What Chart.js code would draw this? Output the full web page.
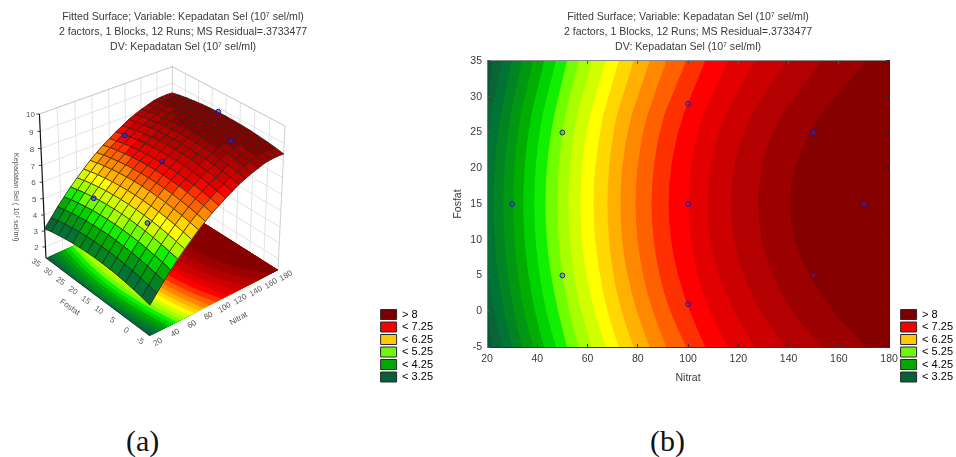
<!DOCTYPE html>
<html lang="en">
<head>
<meta charset="UTF-8">
<title>Fitted Surface</title>
<script src="https://cdn.jsdelivr.net/npm/chart.js"></script>
<style>
    html, body { margin: 0; background: #fff; width: 956px; height: 457px; overflow: hidden; }
    canvas { position: absolute; top: 0; filter: blur(0.3px); }
    #surfaceWrap, #contourWrap { position: absolute; top: 0; height: 384px; }
    #surfaceWrap { left: 0; width: 443px; }
    #contourWrap { left: 452px; width: 511px; }
    .caption { position: absolute; top: 424px; font: 30px "Liberation Serif", serif; color: #111; }
</style>
</head>
<body>
<div id="surfaceWrap"><canvas id="surfaceChart"></canvas></div>
<div id="contourWrap"><canvas id="contourChart"></canvas></div>
<div class="caption" style="left:126px">(a)</div>
<div class="caption" style="left:650px">(b)</div>
<script>
const titleLines = [
    "Fitted Surface; Variable: Kepadatan Sel (10⁷ sel/ml)",
    "2 factors, 1 Blocks, 12 Runs; MS Residual=.3733477",
    "DV: Kepadatan Sel (10⁷ sel/ml)"
];
const legendLabels = ["> 8", "< 7.25", "< 6.25", "< 5.25", "< 4.25", "< 3.25"];
const legendColors = ["#7d0000", "#f40000", "#ffc800", "#70f510", "#00a800", "#08603a"];

const nitratTicks = [20, 40, 60, 80, 100, 120, 140, 160, 180];
const fosfatTicks = [-5, 0, 5, 10, 15, 20, 25, 30, 35];
const zTicks = [2, 3, 4, 5, 6, 7, 8, 9, 10];

// measured runs
const runNitrat = [30, 50, 50, 100, 100, 100, 150, 150, 170];
const runFosfat = [15, 5, 25, 1, 15, 29, 5, 25, 15];
const runZ = [3.9, 6.08, 5.42, 6.9, 7.6, 7.8, 8.8, 8.3, 9.2];

// contour levels, and where each one crosses the fosfat rows (one nitrat per row)
const contourLevels = [3.25, 3.5, 3.75, 4, 4.25, 4.5, 4.75, 5, 5.25, 5.5, 5.75, 6, 6.25, 6.5, 6.75, 7, 7.25, 7.5, 7.75, 8, 8.25, 8.5];
const bandColors = ["#0a5637", "#0a6536", "#007434", "#008522", "#009712", "#00ad00", "#00d200", "#10f000", "#70ff00",
    "#a8ff00", "#d2ff00", "#ffff00", "#ffd800", "#ffb000", "#ff8800", "#ff6000", "#ff3000", "#ff0000",
    "#e20000", "#cc0000", "#b40000", "#9c0000", "#860000"];
const contourFosfat = [-5, 0, 5, 10, 15, 20, 25, 30, 35];
const contourNitrat = [
    [22.0, 18.7, 16.3, 14.9, 14.4, 14.9, 16.3, 18.7, 22.0],
    [26.0, 22.7, 20.3, 18.9, 18.4, 18.9, 20.3, 22.7, 26.0],
    [29.9, 26.7, 24.3, 22.9, 22.4, 22.9, 24.3, 26.7, 29.9],
    [33.9, 30.6, 28.3, 26.9, 26.4, 26.9, 28.3, 30.6, 33.9],
    [38.3, 34.6, 32.2, 30.8, 30.3, 30.8, 32.2, 34.6, 38.3],
    [42.7, 38.9, 36.4, 34.8, 34.3, 34.8, 36.4, 38.9, 42.7],
    [47.4, 43.4, 40.8, 39.2, 38.7, 39.2, 40.8, 43.4, 47.4],
    [51.8, 48.2, 45.4, 43.7, 43.1, 43.7, 45.4, 48.2, 51.8],
    [56.5, 52.5, 49.9, 48.4, 47.9, 48.4, 49.9, 52.5, 56.5],
    [61.7, 57.4, 54.5, 52.8, 52.2, 52.8, 54.5, 57.4, 61.7],
    [67.2, 62.6, 59.5, 57.6, 57.0, 57.6, 59.5, 62.6, 67.2],
    [72.4, 67.7, 64.9, 62.9, 62.2, 62.9, 64.9, 67.7, 72.4],
    [78.3, 73.3, 70.2, 68.4, 67.8, 68.4, 70.2, 73.3, 78.3],
    [84.7, 79.4, 75.8, 73.6, 72.9, 73.6, 75.8, 79.4, 84.7],
    [91.3, 85.8, 81.9, 79.7, 78.9, 79.7, 81.9, 85.8, 91.3],
    [99.2, 92.6, 88.5, 86.1, 85.3, 86.1, 88.5, 92.6, 99.2],
    [106.8, 100.5, 95.8, 93.0, 92.0, 93.0, 95.8, 100.5, 106.8],
    [115.8, 108.3, 103.6, 100.9, 100.0, 100.9, 103.6, 108.3, 115.8],
    [126.4, 118.0, 111.9, 108.7, 107.6, 108.7, 111.9, 118.0, 126.4],
    [138.9, 128.4, 121.8, 118.0, 116.7, 118.0, 121.8, 128.4, 138.9],
    [153.0, 141.0, 133.5, 129.0, 127.5, 129.0, 133.5, 141.0, 153.0],
    [171.0, 157.0, 148.0, 142.0, 140.2, 142.0, 148.0, 157.0, 171.0]
];

// surface heights: one row per nitrat, one column per fosfat
const meshNitrat = [20, 28, 36, 44, 52, 60, 68, 76, 84, 92, 100, 108, 116, 124, 132, 140, 148, 156, 164, 172, 180];
const meshFosfat = [-5, -2.14, 0.71, 3.57, 6.43, 9.29, 12.14, 15, 17.86, 20.71, 23.57, 26.43, 29.29, 32.14, 35];
const surfaceZ = [
    [3.15,3.27,3.37,3.45,3.52,3.56,3.59,3.60,3.59,3.56,3.52,3.45,3.37,3.27,3.15],
    [3.65,3.77,3.87,3.95,4.02,4.06,4.09,4.10,4.09,4.06,4.02,3.95,3.87,3.77,3.65],
    [4.15,4.27,4.37,4.45,4.52,4.56,4.59,4.60,4.59,4.56,4.52,4.45,4.37,4.27,4.15],
    [4.60,4.72,4.82,4.90,4.97,5.01,5.04,5.05,5.04,5.01,4.97,4.90,4.82,4.72,4.60],
    [5.04,5.16,5.26,5.34,5.41,5.45,5.48,5.49,5.48,5.45,5.41,5.34,5.26,5.16,5.04],
    [5.44,5.56,5.66,5.74,5.81,5.85,5.88,5.89,5.88,5.85,5.81,5.74,5.66,5.56,5.44],
    [5.81,5.93,6.03,6.11,6.18,6.22,6.25,6.26,6.25,6.22,6.18,6.11,6.03,5.93,5.81],
    [6.18,6.30,6.40,6.48,6.55,6.59,6.62,6.63,6.62,6.59,6.55,6.48,6.40,6.30,6.18],
    [6.50,6.62,6.72,6.80,6.87,6.91,6.94,6.95,6.94,6.91,6.87,6.80,6.72,6.62,6.50],
    [6.80,6.92,7.02,7.10,7.17,7.21,7.24,7.25,7.24,7.21,7.17,7.10,7.02,6.92,6.80],
    [7.05,7.17,7.27,7.35,7.42,7.46,7.49,7.50,7.49,7.46,7.42,7.35,7.27,7.17,7.05],
    [7.31,7.43,7.53,7.61,7.68,7.72,7.75,7.76,7.75,7.72,7.68,7.61,7.53,7.43,7.31],
    [7.53,7.65,7.75,7.83,7.90,7.94,7.97,7.98,7.97,7.94,7.90,7.83,7.75,7.65,7.53],
    [7.76,7.87,7.96,8.03,8.10,8.13,8.16,8.17,8.16,8.13,8.10,8.03,7.96,7.87,7.76],
    [7.93,8.04,8.13,8.20,8.27,8.30,8.33,8.34,8.33,8.30,8.27,8.20,8.13,8.04,7.93],
    [8.09,8.20,8.29,8.36,8.43,8.46,8.49,8.50,8.49,8.46,8.43,8.36,8.29,8.20,8.09],
    [8.21,8.32,8.41,8.48,8.55,8.58,8.61,8.62,8.61,8.58,8.55,8.48,8.41,8.32,8.21],
    [8.34,8.44,8.52,8.58,8.64,8.67,8.69,8.70,8.69,8.67,8.64,8.58,8.52,8.44,8.34],
    [8.39,8.49,8.57,8.63,8.69,8.72,8.74,8.75,8.74,8.72,8.69,8.63,8.57,8.49,8.39],
    [8.41,8.51,8.59,8.65,8.71,8.74,8.76,8.77,8.76,8.74,8.71,8.65,8.59,8.51,8.41],
    [8.39,8.49,8.57,8.63,8.69,8.72,8.74,8.75,8.74,8.72,8.69,8.63,8.57,8.49,8.39]
];

const FONT = '"Liberation Sans", Arial, sans-serif';
const TEXT = "#3a3a3a";

// 3D view of the left panel: plot units -> canvas pixels, fitted by eye to the box corners
const Z_FLOOR = 1.3, Z_TOP = 10;
function project(n, f, z) {
    const u = (n - 20) / 160, v = (f + 5) / 40, h = (z - Z_FLOOR) / (Z_TOP - Z_FLOOR);
    const d = 1 + 0.085 * u + 0.09 * v - 0.06 * h;
    return {
        x: (150 + 151.6 * u - 99.9 * v - 9.5 * h) / d,
        y: (336 - 43.05 * u - 54.8 * v - 163.8 * h) / d
    };
}

function bandColor(z) {
    return bandColors[contourLevels.filter(l => z > l).length];
}

// boundary of one contour band, closed along the right hand side of the plot
function bandOutline(level) {
    const pts = [[180, -5]];
    contourFosfat.forEach((f, i) => pts.push([Math.max(20, contourNitrat[level][i]), f]));
    pts.push([180, 35]);
    return pts;
}

function legendOptions() {
    return {
        position: "right",
        align: "end",
        labels: {
            boxWidth: 16,
            boxHeight: 10,
            padding: 1.5,
            color: TEXT,
            font: { family: FONT, size: 11 },
            generateLabels: () => legendLabels.map((t, i) => ({
                text: t, fillStyle: legendColors[i], strokeStyle: "#2a2a2a", lineWidth: 1, hidden: false
            }))
        },
        onClick: null
    };
}

function titleOptions() {
    return {
        display: true,
        fullSize: false,
        text: titleLines,
        color: TEXT,
        font: { family: FONT, size: 10.6, weight: "normal", lineHeight: 1.415 },
        padding: { top: 10, bottom: 6 }
    };
}

// fills datasets flagged polygon from the points the library has placed
const polygonPlugin = {
    id: "polygonFill",
    beforeDatasetDraw(chart, args) {
        const ds = chart.data.datasets[args.index];
        if (!ds.polygon) return;
        const ctx = chart.ctx, pts = args.meta.data;
        ctx.save();
        ctx.beginPath();
        ctx.moveTo(pts[0].x, pts[0].y);
        if (ds.rounded) {
            // contour rows are coarse, so round the outline through the midpoints
            ctx.lineTo(pts[1].x, pts[1].y);
            for (let i = 1; i < pts.length - 3; i++) {
                ctx.quadraticCurveTo(pts[i].x, pts[i].y, (pts[i].x + pts[i + 1].x) / 2, (pts[i].y + pts[i + 1].y) / 2);
            }
            ctx.lineTo(pts[pts.length - 2].x, pts[pts.length - 2].y);
        }
        pts.slice(ds.rounded ? -1 : 1).forEach(p => ctx.lineTo(p.x, p.y));
        ctx.closePath();
        ctx.fillStyle = ds.backgroundColor;
        ctx.fill();
        if (ds.seam) {
            ctx.strokeStyle = ds.backgroundColor;
            ctx.lineWidth = 0.5;
            ctx.stroke();
        }
        ctx.restore();
    }
};

// one scale unit = one canvas pixel on the hidden axes of the surface panel
const pixelScalePlugin = {
    id: "pixelScale",
    afterLayout(chart) {
        const a = chart.chartArea, sx = chart.scales.x, sy = chart.scales.y;
        sx.min = a.left; sx.max = a.right; sx.configure();
        sy.min = a.top; sy.max = a.bottom; sy.configure();
    }
};

const boxLabelsPlugin = {
    id: "boxLabels",
    afterDatasetsDraw(chart) {
        const ctx = chart.ctx, sx = chart.scales.x, sy = chart.scales.y;
        const put = (t, p, dx, dy, deg, size) => {
            ctx.save();
            ctx.translate(sx.getPixelForValue(p.x) + dx, sy.getPixelForValue(p.y) + dy);
            ctx.rotate(deg * Math.PI / 180);
            ctx.font = size + "px " + FONT;
            ctx.fillStyle = "#555";
            ctx.textAlign = "center";
            ctx.textBaseline = "middle";
            ctx.fillText(t, 0, 0);
            ctx.restore();
        };
        nitratTicks.forEach(n => put(String(n), project(n, -5, Z_FLOOR), 8, 6, -30, 8));
        fosfatTicks.forEach(f => put(String(f), project(20, f, Z_FLOOR), -10, 5, 35, 8));
        zTicks.forEach(z => put(String(z), project(20, 35, z), -9, 1, 0, 8));
        put("Nitrat", project(100, -5, Z_FLOOR), 22, 17, -30, 8);
        put("Fosfat", project(20, 15, Z_FLOOR), -26, 12, 35, 8);
        put("Kepadatan Sel ( 10⁷ sel/ml)", project(20, 35, 6), -27, 15, 90, 7.3);
    }
};

function segment(a, b, color, width) {
    return { type: "scatter", data: [a, b], showLine: true, borderColor: color, borderWidth: width || 0.8, pointRadius: 0, clip: false };
}

function surfaceNear(n, f) {
    const i = meshNitrat.reduce((b, v, k) => Math.abs(v - n) < Math.abs(meshNitrat[b] - n) ? k : b, 0);
    const j = meshFosfat.reduce((b, v, k) => Math.abs(v - f) < Math.abs(meshFosfat[b] - f) ? k : b, 0);
    return surfaceZ[i][j];
}

function runPoints(inFront) {
    const data = [];
    runNitrat.forEach((n, i) => {
        if ((runZ[i] > surfaceNear(n, runFosfat[i])) === inFront) data.push(project(n, runFosfat[i], runZ[i]));
    });
    return {
        type: "scatter", data, pointRadius: 2.4, borderWidth: 1, clip: false,
        pointBorderColor: "#14148c", pointBackgroundColor: "rgba(40,40,210,0.55)"
    };
}

// back to front, reversed below because Chart.js paints the first dataset last
const surfaceSets = [];
const GRID = "#dcdcdc";
const EDGE = "#c4c4c4";
zTicks.forEach(z => {
    surfaceSets.push(segment(project(20, 35, z), project(180, 35, z), GRID));
    surfaceSets.push(segment(project(180, 35, z), project(180, -5, z), GRID));
});
nitratTicks.slice(1, -1).forEach(n => surfaceSets.push(segment(project(n, 35, Z_FLOOR), project(n, 35, Z_TOP), GRID)));
fosfatTicks.slice(1, -1).forEach(f => surfaceSets.push(segment(project(180, f, Z_FLOOR), project(180, f, Z_TOP), GRID)));
surfaceSets.push(segment(project(20, 35, Z_TOP), project(180, 35, Z_TOP), EDGE));
surfaceSets.push(segment(project(180, 35, Z_TOP), project(180, -5, Z_TOP), EDGE));
surfaceSets.push(segment(project(180, 35, Z_FLOOR), project(180, 35, Z_TOP), EDGE));
surfaceSets.push(segment(project(180, -5, Z_FLOOR), project(180, -5, Z_TOP), EDGE));

surfaceSets.push({
    type: "scatter", polygon: true, backgroundColor: bandColors[0], pointRadius: 0, clip: false,
    data: [[20, -5], [180, -5], [180, 35], [20, 35]].map(p => project(p[0], p[1], Z_FLOOR))
});
contourLevels.forEach((l, i) => surfaceSets.push({
    type: "scatter", polygon: true, rounded: true, backgroundColor: bandColors[i + 1], pointRadius: 0, clip: false,
    data: bandOutline(i).map(p => project(p[0], p[1], Z_FLOOR))
}));
surfaceSets.push(segment(project(20, -5, Z_FLOOR), project(20, 35, Z_FLOOR), "#222"));
surfaceSets.push(segment(project(20, 35, Z_FLOOR), project(20, 35, Z_TOP), "#111", 1.2));
zTicks.forEach(z => {
    const p = project(20, 35, z);
    surfaceSets.push(segment(p, { x: p.x - 3, y: p.y }, "#222"));
});
surfaceSets.push(runPoints(false));
for (let i = meshNitrat.length - 2; i >= 0; i--) {
    for (let j = meshFosfat.length - 2; j >= 0; j--) {
        const c = [[i, j], [i + 1, j], [i + 1, j + 1], [i, j + 1], [i, j]];
        const mean = (surfaceZ[i][j] + surfaceZ[i + 1][j] + surfaceZ[i + 1][j + 1] + surfaceZ[i][j + 1]) / 4;
        surfaceSets.push({
            type: "scatter", polygon: true, seam: true, backgroundColor: bandColor(mean),
            data: c.map(k => project(meshNitrat[k[0]], meshFosfat[k[1]], surfaceZ[k[0]][k[1]])),
            showLine: true, borderColor: "rgba(45,35,25,0.85)", borderWidth: 0.9, pointRadius: 0, clip: false
        });
    }
}
surfaceSets.push(runPoints(true));

new Chart(document.getElementById("surfaceChart"), {
    type: "scatter",
    data: { datasets: surfaceSets.reverse() },
    plugins: [polygonPlugin, pixelScalePlugin, boxLabelsPlugin],
    options: {
        responsive: true,
        maintainAspectRatio: false,
        animation: false,
        events: [],
        layout: { padding: { left: 6 } },
        scales: {
            x: { display: false, min: 0, max: 443 },
            y: { display: false, reverse: true, min: 0, max: 384 },
            y2: {
                position: "right", min: 0, max: 1,
                afterFit: s => { s.width = 19; },
                ticks: { display: false },
                grid: { display: false },
                border: { display: false }
            }
        },
        plugins: { title: titleOptions(), legend: legendOptions(), tooltip: { enabled: false } }
    }
});

const contourSets = [{
    polygon: true, backgroundColor: bandColors[0], pointRadius: 0,
    data: [[20, -5], [180, -5], [180, 35], [20, 35]].map(p => ({ x: p[0], y: p[1] }))
}];
contourLevels.forEach((l, i) => contourSets.push({
    polygon: true, rounded: true, backgroundColor: bandColors[i + 1], pointRadius: 0,
    data: bandOutline(i).map(p => ({ x: p[0], y: p[1] }))
}));
contourSets.push({
    data: runNitrat.map((n, i) => ({ x: n, y: runFosfat[i] })),
    pointRadius: 2.4, borderWidth: 1, pointBorderColor: "#1c1ca8", pointBackgroundColor: "rgba(60,60,200,0.3)"
});

const tickFont = { family: FONT, size: 10.5 };
new Chart(document.getElementById("contourChart"), {
    type: "scatter",
    data: { datasets: contourSets.reverse() },
    plugins: [polygonPlugin],
    options: {
        responsive: true,
        maintainAspectRatio: false,
        animation: false,
        events: [],
        scales: {
            x: {
                min: 20, max: 180,
                afterFit: s => { s.height = 37; },
                ticks: { stepSize: 20, color: TEXT, font: tickFont, maxRotation: 0, padding: 9 },
                grid: { drawOnChartArea: false, tickLength: -3, color: "#333", z: 1 },
                border: { color: "#333", z: 1 },
                title: { display: true, text: "Nitrat", color: TEXT, font: tickFont, padding: { top: 2, bottom: 0 } }
            },
            x2: {
                position: "top", min: 20, max: 180,
                afterFit: s => { s.height = 0; },
                ticks: { display: false, stepSize: 20 },
                grid: { drawOnChartArea: false, tickLength: -3, color: "#555", z: 1 },
                border: { color: "#888", z: 1 }
            },
            y: {
                min: -5, max: 35,
                afterFit: s => { s.width = 35; },
                ticks: { stepSize: 5, color: TEXT, font: tickFont, padding: 8 },
                grid: { drawOnChartArea: false, tickLength: -3, color: "#555", z: 1 },
                border: { color: "#777", z: 1 },
                title: { display: true, text: "Fosfat", color: TEXT, font: tickFont, padding: 0 }
            },
            y2: {
                position: "right", min: -5, max: 35,
                afterFit: s => { s.width = 10; },
                ticks: { display: false, stepSize: 5 },
                grid: { drawOnChartArea: false, tickLength: -3, color: "#333", z: 1 },
                border: { color: "#222", z: 1 }
            }
        },
        plugins: { title: titleOptions(), legend: legendOptions(), tooltip: { enabled: false } }
    }
});
</script>
</body>
</html>
